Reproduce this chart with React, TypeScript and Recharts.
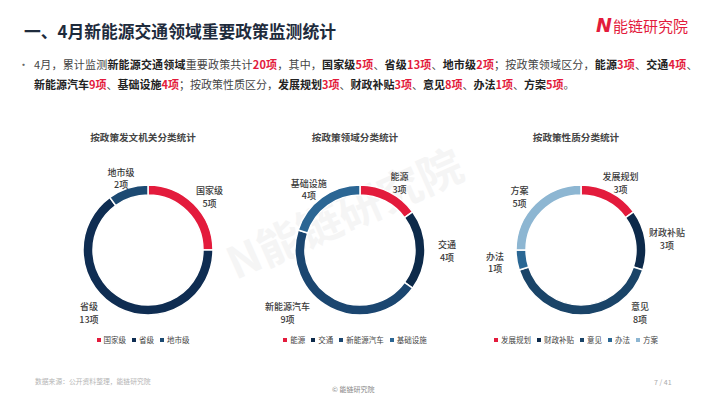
import React from 'react';
import { PieChart, Pie, Cell, Legend } from 'recharts';

const agencyCategories = ['国家级', '省级', '地市级'];
const agencyValues = [5, 13, 2];
const agencyColors = ['#E31B3C', '#0F2D52', '#1C4A72'];

const fieldCategories = ['能源', '交通', '新能源汽车', '基础设施'];
const fieldValues = [3, 4, 9, 4];
const fieldColors = ['#E31B3C', '#0D2A4A', '#1B4670', '#2B6694'];

const natureCategories = ['发展规划', '财政补贴', '意见', '办法', '方案'];
const natureValues = [3, 3, 8, 1, 5];
const natureColors = ['#E31B3C', '#0D2A4A', '#1A4468', '#2A6794', '#8DB6D2'];

const FONT = '"Noto Sans CJK SC", "Noto Sans", sans-serif';

const RAD = Math.PI / 180;

function makeLabel(props: any) {
  const { cx, cy, midAngle, outerRadius, name, value } = props;
  const dx = Math.cos(midAngle * RAD);
  const dy = -Math.sin(midAngle * RAD);
  const fs = 9;
  let x: number;
  let y: number;
  if (dy > 0.8) {
    const side = dx >= -0.01 ? 1 : -1;
    const half = (String(name).length * fs) / 2;
    x = cx + side * (50 + half);
    y = cy + 62;
  } else {
    const rx = outerRadius + 22;
    const ry = outerRadius + 11;
    x = cx + rx * dx;
    y = cy + ry * dy;
  }
  return (
    <g>
      <text x={x} y={y - 2} textAnchor="middle" fill="#3a3a3a" fontSize={fs} fontFamily={FONT} fontWeight={500}>{name}</text>
      <text x={x} y={y + 10.5} textAnchor="middle" fill="#3a3a3a" fontSize={fs} fontFamily={FONT} fontWeight={500}>{value + '项'}</text>
    </g>
  );
}

function LegendRow({ cats, colors }: { cats: string[]; colors: string[] }) {
  return (
    <div style={{ display: 'flex', justifyContent: 'center', alignItems: 'center', gap: 6, fontSize: 7.5, fontFamily: FONT, color: '#444', lineHeight: '10px', whiteSpace: 'nowrap' }}>
      {cats.map((c, i) => (
        <span key={c} style={{ display: 'inline-flex', alignItems: 'center' }}>
          <span style={{ display: 'inline-block', width: 4, height: 4, background: colors[i], marginRight: 3 }} />
          {c}
        </span>
      ))}
    </div>
  );
}

function Donut({ title, cats, vals, colors, cx }: { title: string; cats: string[]; vals: number[]; colors: string[]; cx: number }) {
  const data = cats.map((c, i) => ({ name: c, value: vals[i] }));
  const W = 240;
  return (
    <div style={{ position: 'absolute', left: cx - W / 2, top: 125, width: W, height: 235 }}>
      <div style={{ position: 'absolute', left: 0, top: 5, width: W, textAlign: 'center', fontSize: 9.6, fontWeight: 700, color: '#444', fontFamily: FONT, lineHeight: '14px' }}>{title}</div>
      <PieChart width={W} height={235}>
        <Pie
          data={data}
          dataKey="value"
          nameKey="name"
          cx={W / 2}
          cy={120}
          innerRadius={55}
          outerRadius={65}
          startAngle={90}
          endAngle={-270}
          stroke="#ffffff"
          strokeWidth={1.5}
          label={makeLabel}
          labelLine={false}
          isAnimationActive={false}
        >
          {data.map((d, i) => (
            <Cell key={d.name} fill={colors[i]} />
          ))}
        </Pie>
        <Legend
          verticalAlign="bottom"
          wrapperStyle={{ top: 210, left: 0, width: W }}
          content={() => <LegendRow cats={cats} colors={colors} />}
        />
      </PieChart>
    </div>
  );
}

const R = ({ children }: any) => <span style={{ color: '#E31B3C', fontWeight: 700 }}>{children}</span>;
const B = ({ children }: any) => <span style={{ color: '#222', fontWeight: 700 }}>{children}</span>;

export default function App() {
  return (
    <div style={{ position: 'fixed', left: 0, top: 0, width: 710, height: 399, background: '#fff', overflow: 'hidden', fontFamily: FONT }}>
      {/* watermark */}
      <div style={{ position: 'absolute', left: 228, top: 238, fontSize: 44, fontWeight: 700, color: '#f5f5f5', transform: 'rotate(-24deg)', transformOrigin: 'left center', whiteSpace: 'nowrap', lineHeight: '50px' }}>N能链研究院</div>

      <div style={{ position: 'absolute', left: 24, top: 20, fontSize: 16.8, fontWeight: 700, color: '#1E2B3C', whiteSpace: 'nowrap', lineHeight: '22px' }}>
        一、4月新能源交通领域重要政策监测统计
      </div>

      <div style={{ position: 'absolute', left: 596, top: 15, whiteSpace: 'nowrap', lineHeight: '20px', color: '#E31B3C' }}>
        <span style={{ fontSize: 19, fontWeight: 900, fontStyle: 'italic', fontFamily: '"DejaVu Sans", sans-serif' }}>N</span>
        <span style={{ fontSize: 15, marginLeft: 1 }}>能链研究院</span>
      </div>

      <div style={{ position: 'absolute', left: 18, top: 56, fontSize: 11, color: '#444', whiteSpace: 'nowrap', lineHeight: '16px' }}>
        <span style={{ color: '#666' }}>•</span>
      </div>
      <div style={{ position: 'absolute', left: 34, top: 56, fontSize: 11, letterSpacing: 0.18, color: '#444', whiteSpace: 'nowrap', lineHeight: '16px' }}>
        <div>
          4月，累计监测<B>新能源交通领域</B>重要政策共计<R>20项</R>，其中，<B>国家级</B><R>5项</R>、<B>省级</B><R>13项</R>、<B>地市级</B><R>2项</R>；按政策领域区分，<B>能源</B><R>3项</R>、<B>交通</B><R>4项</R>、
        </div>
        <div style={{ marginTop: 4, letterSpacing: 0 }}>
          <B>新能源汽车</B><R>9项</R>、<B>基础设施</B><R>4项</R>；按政策性质区分，<B>发展规划</B><R>3项</R>、<B>财政补贴</B><R>3项</R>、<B>意见</B><R>8项</R>、<B>办法</B><R>1项</R>、<B>方案</B><R>5项</R>。
        </div>
      </div>

      <Donut title="按政策发文机关分类统计" cats={agencyCategories} vals={agencyValues} colors={agencyColors} cx={143} />
      <Donut title="按政策领域分类统计" cats={fieldCategories} vals={fieldValues} colors={fieldColors} cx={355} />
      <Donut title="按政策性质分类统计" cats={natureCategories} vals={natureValues} colors={natureColors} cx={576} />

      <div style={{ position: 'absolute', left: 35, top: 376, fontSize: 6.8, color: '#b5b5b5', whiteSpace: 'nowrap' }}>数据来源：公开资料整理，能链研究院</div>
      <div style={{ position: 'absolute', left: 332, top: 384, fontSize: 7, color: '#888', whiteSpace: 'nowrap' }}>© 能链研究院</div>
      <div style={{ position: 'absolute', left: 654, top: 377, fontSize: 7, color: '#aaa', whiteSpace: 'nowrap' }}>7 / 41</div>
    </div>
  );
}
